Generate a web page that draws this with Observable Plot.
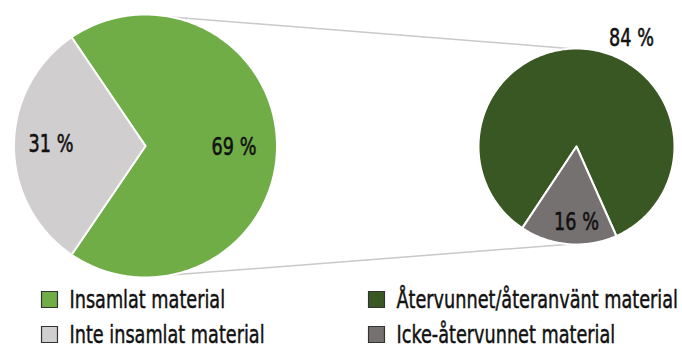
<!DOCTYPE html>
<html>
<head>
<meta charset="utf-8">
<script src="https://cdn.jsdelivr.net/npm/d3@7"></script>
<script src="https://cdn.jsdelivr.net/npm/@observablehq/plot@0.6"></script>
<style>
  html, body { margin: 0; padding: 0; background: #fff; }
</style>
</head>
<body>
<div id="chart"></div>
<script>
// Shares of collected vs. not collected material, and what happens to the collected part
const mainCategories = ["Insamlat material", "Inte insamlat material"];
const mainShares = [69, 31];
const detailCategories = ["Återvunnet/återanvänt material", "Icke-återvunnet material"];
const detailShares = [84, 16];
const palette = ["#70ad47", "#d0cece", "#385723", "#767171"];

const W = 682, H = 349;
const FONT = "'DejaVu Sans', sans-serif";

// Pie layout in pixels; angles in degrees clockwise from 12 o'clock
const mainPie = {cx: 145, cy: 145.5, r: 131.5, start: -34.2, labelPos: [[233.5, 147], [50.5, 144]]};
const detailPie = {cx: 576, cy: 146, r: 98, start: 213.6, labelPos: [[631, 38], [576, 222]]};

const toXY = (p, deg, r = p.r) => {
  const a = deg * Math.PI / 180;
  return [p.cx + r * Math.sin(a), p.cy - r * Math.cos(a)];
};

function slices(pie, categories, shares) {
  const total = d3.sum(shares);
  let a = pie.start;
  return categories.map((category, i) => {
    const a0 = a, a1 = a + 360 * shares[i] / total;
    a = a1;
    const n = Math.max(2, Math.ceil(a1 - a0));
    const ring = [[pie.cx, pie.cy]];
    for (let k = 0; k <= n; ++k) ring.push(toXY(pie, a0 + (a1 - a0) * k / n));
    ring.push([pie.cx, pie.cy]);
    return {
      type: "Feature",
      properties: {category, share: shares[i], label: pie.labelPos[i]},
      geometry: {type: "Polygon", coordinates: [ring]}
    };
  });
}

const mainSlices = slices(mainPie, mainCategories, mainShares);
const detailSlices = slices(detailPie, detailCategories, detailShares);
const allSlices = [...mainSlices, ...detailSlices];

// Connector lines from the collected slice to the detail pie
const connectors = [
  {type: "LineString", coordinates: [toXY(mainPie, 11), toXY(detailPie, -3)]},
  {type: "LineString", coordinates: [toXY(mainPie, 169), toXY(detailPie, 184)]}
];

// Legend entries: two columns
const legendItems = [
  {category: mainCategories[0], x: 49, y: 299},
  {category: mainCategories[1], x: 49, y: 334},
  {category: detailCategories[0], x: 376, y: 299},
  {category: detailCategories[1], x: 376, y: 334}
];

const chart = Plot.plot({
  width: W,
  height: H,
  margin: 0,
  projection: {type: "identity"},
  color: {domain: [...mainCategories, ...detailCategories], range: palette},
  style: {fontFamily: FONT, background: "#fff"},
  marks: [
    Plot.geo(connectors, {stroke: "#c9c9c9", strokeWidth: 1.5}),
    Plot.geo(allSlices, {fill: d => d.properties.category, stroke: "#fff", strokeWidth: 2}),
    Plot.text(allSlices, {
      x: d => d.properties.label[0],
      y: d => d.properties.label[1],
      text: d => `${d.properties.share} %`,
      fontSize: 24.5,
      fill: "#111",
      stroke: "#111",
      strokeWidth: 0.6
    }),
    Plot.dot(legendItems, {x: "x", y: "y", symbol: "square", r: 9, fill: "category", stroke: "#333", strokeWidth: 1.2}),
    Plot.text(legendItems, {
      x: d => d.x + 20,
      y: "y",
      text: "category",
      textAnchor: "start",
      fontSize: 25,
      fill: "#111",
      stroke: "#111",
      strokeWidth: 0.5
    })
  ]
});

// Condense the lettering horizontally (narrow humanist look)
for (const t of chart.querySelectorAll("text")) {
  const label = t.textContent.trim();
  const k = label.endsWith("%") ? 0.72 : 0.707;
  const tr = t.getAttribute("transform") || "";
  t.setAttribute("transform", tr + " scale(" + k + ",1)");
}

document.getElementById("chart").append(chart);
</script>
</body>
</html>
